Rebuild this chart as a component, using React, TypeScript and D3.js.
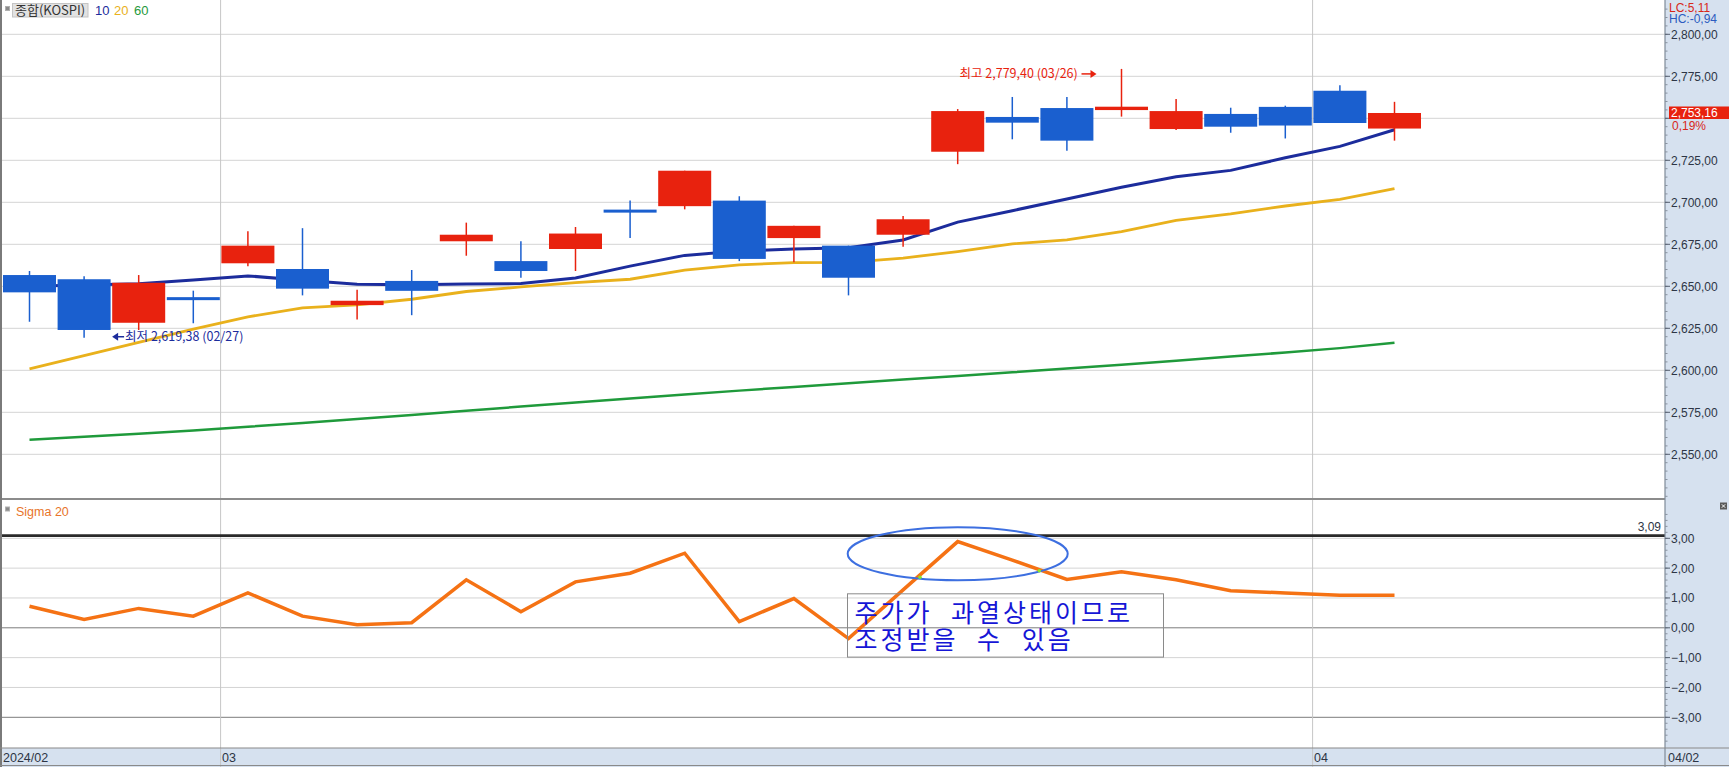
import React from 'react';
import * as d3 from 'd3';

// ---------------- data ----------------
const dates = ["02/26","02/27","02/28","02/29","03/04","03/05","03/06","03/07","03/08","03/11","03/12","03/13","03/14","03/15","03/18","03/19","03/20","03/21","03/22","03/25","03/26","03/27","03/28","03/29","04/01","04/02"];
const opens  = [2656.7,2654.2,2628.3,2643.0,2663.7,2660.3,2638.8,2653.2,2676.8,2665.0,2672.2,2695.0,2697.7,2701.0,2678.7,2674.2,2680.7,2730.1,2750.8,2756.1,2754.9,2743.6,2752.6,2756.8,2766.4,2743.9];
const highs  = [2659.1,2656.0,2656.7,2647.4,2682.7,2684.6,2647.9,2659.7,2687.9,2676.8,2685.3,2701.0,2718.8,2703.6,2686.0,2674.2,2691.8,2755.5,2762.7,2762.7,2779.4,2761.5,2756.3,2757.5,2769.7,2759.8];
const lows   = [2628.9,2619.38,2624.0,2628.0,2662.0,2644.6,2630.2,2632.8,2668.2,2655.1,2659.1,2678.7,2695.8,2665.0,2664.3,2644.6,2673.5,2722.7,2737.5,2730.7,2751.0,2743.0,2741.4,2738.0,2747.2,2736.7];
const closes = [2646.4,2624.0,2652.1,2642.3,2674.2,2648.6,2641.4,2647.3,2680.7,2659.1,2681.4,2694.5,2718.8,2666.3,2686.0,2655.1,2689.9,2754.3,2747.4,2736.7,2756.9,2754.3,2745.0,2745.7,2747.2,2753.16];
const ma10 = [2650.0,2650.8,2651.5,2653.8,2656.2,2653.6,2651.2,2650.9,2651.4,2651.6,2655.0,2662.0,2668.4,2671.0,2672.2,2672.9,2677.6,2688.2,2695.0,2702.0,2709.0,2715.2,2719.0,2726.5,2733.3,2743.2];
const ma20 = [2600.8,2608.7,2616.6,2624.5,2631.8,2637.2,2638.9,2642.3,2646.9,2649.6,2652.2,2654.2,2659.6,2662.8,2664.1,2664.3,2666.8,2670.7,2675.3,2677.6,2682.6,2689.2,2693.1,2697.8,2701.7,2708.2];
const ma60 = [2558.6,2560.4,2562.3,2564.2,2566.4,2568.7,2571.0,2573.4,2575.9,2578.4,2580.8,2583.2,2585.6,2587.9,2590.1,2592.3,2594.5,2596.6,2598.8,2601.0,2603.3,2605.7,2608.2,2610.6,2613.2,2616.4];
const sigma20 = [0.72,0.28,0.65,0.39,1.17,0.39,0.10,0.17,1.61,0.54,1.54,1.83,2.50,0.21,0.98,-0.36,1.27,2.89,2.27,1.62,1.88,1.61,1.24,1.17,1.09,1.09];

const priceTicks = [2550, 2575, 2600, 2625, 2650, 2675, 2700, 2725, 2750, 2775, 2800];
const sigmaTicks = [-3, -2, -1, 0, 1, 2, 3];
const sigmaLevel = 3.09;
const firstAxisLabel = "2024/02";
const lastAxisLabel = "04/02";
const changePct = "0,19%";
const lcText = "LC:5,11";
const hcText = "HC:-0,94";
const noteLines = ["주가가 과열상태이므로", "조정받을 수 있음"];

// ---------------- style ----------------
const RED = '#e8220e';
const BLUE = '#1a5fcf';
const NAVY = '#1c2c9c';
const GOLD = '#e9b11c';
const GREEN = '#1f9a3b';
const ORANGE = '#f57214';
const AXIS_BG = '#d6e1ef';
const GRID = '#d4d4d4';
const TXT = '#2d3545';
const NUM_FONT = '"Liberation Sans", Arial, sans-serif';
const KR_FONT = '"Noto Sans CJK KR", "Noto Sans", sans-serif';

const W = 1729, H = 767;
const PLOT_R = 1665;
const MAIN_BOTTOM = 499;
const AXIS_TOP = 748;
const STEP = 54.6;
const BODY_W = 53;

const fmt2 = (v: number) => d3.format(',.2f')(v).replace(/\.(\d\d)$/, ',$1');

export default function App() {
  const n = dates.length;
  const x = d3.scaleLinear().domain([0, n - 1]).range([29.5, 29.5 + STEP * (n - 1)]);
  const yP = d3.scaleLinear().domain([2550, 2800]).range([454.3, 34.3]);
  const yS = d3.scaleLinear().domain([-3, 3]).range([717.3, 538.3]);

  const lineP = (arr: number[]) =>
    d3.line<number>().x((_, i) => x(i)).y(d => yP(d))(arr) || '';
  const sigmaPath = d3.line<number>().x((_, i) => x(i)).y(d => yS(d))(sigma20) || '';

  // month boundaries
  const monthBounds: { pos: number; label: string }[] = [];
  for (let i = 1; i < n; i++) {
    if (dates[i].slice(0, 2) !== dates[i - 1].slice(0, 2)) {
      monthBounds.push({ pos: x(i - 0.5), label: dates[i].slice(0, 2) });
    }
  }

  const minorPrice = d3.range(2525, 2825, 5).filter(v => yP(v) > 2 && yP(v) < MAIN_BOTTOM - 2);
  const minorSigma = d3.range(-40, 40, 2).map(v => v / 10).filter(v => yS(v) > 503 && yS(v) < AXIS_TOP - 2);

  const iMax = d3.maxIndex(highs);
  const iMin = d3.minIndex(lows);
  const hiY = yP(highs[iMax]);
  const loY = yP(lows[iMin]);
  const lastClose = closes[n - 1];
  const lastY = yP(lastClose);

  // annotation geometry
  const iPeak = d3.maxIndex(sigma20);
  const ellCx = x(iPeak);
  const ellCy = yS(2.48);
  const boxX = x(iPeak - 2) - 1;
  const boxY = yS(1.24);

  return (
    <svg width={W} height={H} style={{ position: 'absolute', left: 0, top: 0, background: '#fff' }}
      xmlns="http://www.w3.org/2000/svg">
      <rect x={0} y={0} width={W} height={H} fill="#fff" />
      {/* right axis background */}
      <rect x={PLOT_R} y={0} width={W - PLOT_R} height={H} fill={AXIS_BG} />
      {/* bottom axis background */}
      <rect x={0} y={AXIS_TOP} width={W} height={H - AXIS_TOP} fill={AXIS_BG} />

      {/* main horizontal gridlines */}
      {priceTicks.map(v => (
        <line key={'g' + v} x1={0} x2={PLOT_R} y1={yP(v)} y2={yP(v)} stroke={GRID} strokeWidth={1} />
      ))}
      {/* sigma gridlines */}
      {sigmaTicks.map(v => (
        <line key={'sg' + v} x1={0} x2={PLOT_R} y1={yS(v)} y2={yS(v)}
          stroke={v === 0 || v === -3 ? '#7c7c7c' : GRID} strokeWidth={1} />
      ))}
      {/* month vertical gridlines */}
      {monthBounds.map(m => (
        <line key={'v' + m.label} x1={m.pos} x2={m.pos} y1={0} y2={H} stroke="#c6c6c6" strokeWidth={1} />
      ))}

      {/* moving averages */}
      <path d={lineP(ma60)} fill="none" stroke={GREEN} strokeWidth={2.5} />
      <path d={lineP(ma20)} fill="none" stroke={GOLD} strokeWidth={2.8} />
      <path d={lineP(ma10)} fill="none" stroke={NAVY} strokeWidth={3} />

      {/* candles */}
      {dates.map((d, i) => {
        const up = closes[i] >= opens[i];
        const c = up ? RED : BLUE;
        const yTop = yP(Math.max(opens[i], closes[i]));
        const yBot = yP(Math.min(opens[i], closes[i]));
        let h = yBot - yTop;
        let yy = yTop;
        if (h < 3) { yy = (yTop + yBot) / 2 - 1.5; h = 3; }
        return (
          <g key={'c' + d}>
            <line x1={x(i)} x2={x(i)} y1={yP(highs[i])} y2={yP(lows[i])} stroke={c} strokeWidth={1.5} />
            <rect x={x(i) - BODY_W / 2} y={yy} width={BODY_W} height={h} fill={c} />
          </g>
        );
      })}

      {/* high label */}
      <g fill={RED}>
        <text x={x(iMax) - 162} y={hiY + 9} fontFamily={KR_FONT} fontSize={12.5} fill={RED}>
          {`최고 ${fmt2(highs[iMax])} (${dates[iMax]})`}
        </text>
        <line x1={x(iMax) - 40} x2={x(iMax) - 30} y1={hiY + 5} y2={hiY + 5} stroke={RED} strokeWidth={1.5} />
        <polygon points={`${x(iMax) - 31},${hiY + 1} ${x(iMax) - 25},${hiY + 5} ${x(iMax) - 31},${hiY + 9}`} />
      </g>
      {/* low label */}
      <g fill={NAVY}>
        <polygon points={`${x(iMin) + 28},${loY - 1} ${x(iMin) + 34},${loY - 5} ${x(iMin) + 34},${loY + 3}`} />
        <line x1={x(iMin) + 33} x2={x(iMin) + 40} y1={loY - 1} y2={loY - 1} stroke={NAVY} strokeWidth={1.5} />
        <text x={x(iMin) + 41} y={loY + 3} fontFamily={KR_FONT} fontSize={12.5} fill={NAVY}>
          {`최저 ${fmt2(lows[iMin])} (${dates[iMin]})`}
        </text>
      </g>

      {/* panel divider */}
      <line x1={0} x2={PLOT_R} y1={MAIN_BOTTOM} y2={MAIN_BOTTOM} stroke="#8c8c8c" strokeWidth={2} />

      {/* sigma level line */}
      <line x1={0} x2={PLOT_R} y1={yS(sigmaLevel)} y2={yS(sigmaLevel)} stroke="#2a2a2a" strokeWidth={2.6} />
      <text x={PLOT_R - 4} y={yS(sigmaLevel) - 5} textAnchor="end" fontFamily={NUM_FONT} fontSize={12} fill={TXT}>
        {fmt2(sigmaLevel)}
      </text>

      {/* sigma line */}
      <path d={sigmaPath} fill="none" stroke={ORANGE} strokeWidth={3.5} strokeLinejoin="miter" />

      {/* annotation ellipse + note */}
      <ellipse cx={ellCx} cy={ellCy} rx={110} ry={26.5} fill="none" stroke="#3d6fe0" strokeWidth={2} />
      <circle cx={920} cy={577.3} r={1.8} fill="#8ae62a" />
      <circle cx={1039.3} cy={570.7} r={1.8} fill="#8ae62a" />
      <rect x={boxX} y={boxY + 3} width={316} height={63.3} fill="none" stroke="#8a8a8a" strokeWidth={1} />
      {noteLines.map((t, k) => (
        <text key={'n' + k} x={boxX + 7} y={boxY + 31 + k * 27} fontFamily={KR_FONT} fontSize={25}
          letterSpacing={3} wordSpacing={10} fill="#1616d6">{t}</text>
      ))}

      {/* left border */}
      <line x1={1} x2={1} y1={0} y2={H} stroke="#7a7a7a" strokeWidth={2} />

      {/* legend main */}
      <rect x={5.5} y={6.5} width={4} height={4} fill="#8a8a8a" stroke="#b0b0b0" strokeWidth={1} />
      <rect x={12.5} y={3.5} width={75.5} height={13.5} fill="#e2e2e2" stroke="#c4c4c4" strokeWidth={1} />
      <text x={15} y={14.8} fontFamily={KR_FONT} fontSize={13} fill="#333">종합(KOSPI)</text>
      <text x={95} y={14.8} fontFamily={NUM_FONT} fontSize={13} fill={NAVY}>10</text>
      <text x={114} y={14.8} fontFamily={NUM_FONT} fontSize={13} fill={GOLD}>20</text>
      <text x={134} y={14.8} fontFamily={NUM_FONT} fontSize={13} fill={GREEN}>60</text>

      {/* legend sigma */}
      <rect x={5.5} y={507} width={4} height={4} fill="#8a8a8a" stroke="#b0b0b0" strokeWidth={1} />
      <text x={16} y={516} fontFamily={NUM_FONT} fontSize={12.5} fill="#e8742a">Sigma 20</text>

      {/* right axis */}
      <line x1={PLOT_R} x2={PLOT_R} y1={0} y2={H} stroke="#7f8a98" strokeWidth={1.2} />
      {minorPrice.map(v => (
        <line key={'mp' + v} x1={PLOT_R} x2={PLOT_R + 2.5} y1={yP(v)} y2={yP(v)} stroke="#8a93a0" strokeWidth={1} />
      ))}
      {priceTicks.map(v => (
        <g key={'pt' + v}>
          <line x1={PLOT_R} x2={PLOT_R + 5} y1={yP(v)} y2={yP(v)} stroke="#556070" strokeWidth={1} />
          {Math.abs(yP(v) - lastY) > 16 && (
            <text x={PLOT_R + 6} y={yP(v) + 4.5} fontFamily={NUM_FONT} fontSize={12} fill={TXT}>{fmt2(v)}</text>
          )}
        </g>
      ))}
      {minorSigma.map(v => (
        <line key={'ms' + v} x1={PLOT_R} x2={PLOT_R + 2.5} y1={yS(v)} y2={yS(v)} stroke="#8a93a0" strokeWidth={1} />
      ))}
      {sigmaTicks.map(v => (
        <g key={'st' + v}>
          <line x1={PLOT_R} x2={PLOT_R + 5} y1={yS(v)} y2={yS(v)} stroke="#556070" strokeWidth={1} />
          <text x={PLOT_R + 6} y={yS(v) + 4.5} fontFamily={NUM_FONT} fontSize={12} fill={TXT}>{fmt2(v)}</text>
        </g>
      ))}
      {/* LC / HC */}
      <text x={PLOT_R + 4} y={11.5} fontFamily={NUM_FONT} fontSize={12} fill="#d8281a">{lcText}</text>
      <text x={PLOT_R + 4} y={23} fontFamily={NUM_FONT} fontSize={12} fill="#2c5cc0">{hcText}</text>
      {/* last price box */}
      <rect x={PLOT_R + 4} y={lastY - 6.5} width={W - PLOT_R - 4} height={12.5} fill={RED} />
      <text x={PLOT_R + 6} y={lastY + 4} fontFamily={NUM_FONT} fontSize={12} fill="#fff">{fmt2(lastClose)}</text>
      <text x={PLOT_R + 7} y={lastY + 17} fontFamily={NUM_FONT} fontSize={12} fill="#d8281a">{changePct}</text>
      {/* close icon */}
      <rect x={1720} y={502.5} width={7} height={7} fill="#5a5a5a" />
      <path d="M1721.8,504.3 L1725.2,507.7 M1725.2,504.3 L1721.8,507.7" stroke="#fff" strokeWidth={1} />

      {/* bottom axis */}
      <line x1={0} x2={W} y1={AXIS_TOP} y2={AXIS_TOP} stroke="#8a8a8a" strokeWidth={1.2} />
      <line x1={0} x2={W} y1={H - 1.5} y2={H - 1.5} stroke="#8a8a8a" strokeWidth={1} />
      <text x={3} y={762} fontFamily={NUM_FONT} fontSize={12.5} fill={TXT}>{firstAxisLabel}</text>
      {monthBounds.map(m => (
        <text key={'ml' + m.label} x={m.pos + 1.5} y={762} fontFamily={NUM_FONT} fontSize={12.5} fill={TXT}>{m.label}</text>
      ))}
      <text x={PLOT_R + 3} y={762} fontFamily={NUM_FONT} fontSize={12.5} fill={TXT}>{lastAxisLabel}</text>
    </svg>
  );
}
